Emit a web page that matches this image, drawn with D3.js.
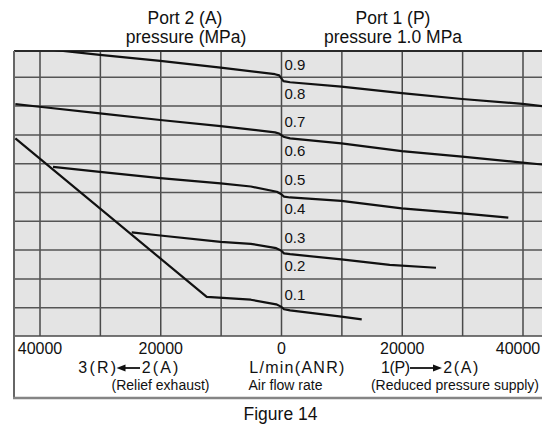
<!DOCTYPE html>
<html>
<head>
<meta charset="utf-8">
<script src="https://cdn.jsdelivr.net/npm/d3@7"></script>
<style>
  body { margin: 0; background: #fff; }
  text { font-family: "Liberation Sans", Arial, Helvetica, sans-serif; fill: #111; }
</style>
</head>
<body>
<svg width="542" height="428"></svg>
<script>
// flow in L/min(ANR): negative = relief exhaust 3(R)<-2(A), positive = supply 1(P)->2(A)
const xGridTicks = [-40000, -30000, -20000, -10000, 0, 10000, 20000, 30000, 40000];
const xLabelTicks = [-40000, -20000, 0, 20000, 40000];
const yGridTicks = [0.1, 0.2, 0.3, 0.4, 0.5, 0.6, 0.7, 0.8, 0.9];
const yLabelTicks = [0.1, 0.2, 0.3, 0.4, 0.5, 0.6, 0.7, 0.8, 0.9];

// [flow, port 2 pressure MPa], one array per set pressure
const curve09 = [[-44000, 1.008], [-30000, 0.976], [-20000, 0.955], [-10000, 0.932], [-1000, 0.909],
  [-300, 0.905], [0, 0.896], [400, 0.885], [1500, 0.881], [10000, 0.866], [20000, 0.843],
  [30000, 0.823], [40000, 0.806], [44000, 0.796]];
const curve07 = [[-44000, 0.805], [-40000, 0.796], [-30000, 0.773], [-20000, 0.750], [-10000, 0.729],
  [-1000, 0.707], [-300, 0.703], [0, 0.698], [400, 0.692], [1500, 0.686], [10000, 0.669],
  [20000, 0.642], [30000, 0.623], [40000, 0.602], [44000, 0.594]];
const curve05 = [[-37760, 0.587], [-30000, 0.570], [-20000, 0.548], [-10000, 0.530], [-5000, 0.519],
  [-700, 0.501], [0, 0.493], [500, 0.484], [1500, 0.481], [10000, 0.469], [20000, 0.443],
  [30000, 0.426], [37650, 0.411]];
const curve03 = [[-24730, 0.360], [-20000, 0.349], [-10000, 0.327], [-5000, 0.320], [-800, 0.305],
  [0, 0.297], [500, 0.287], [1500, 0.284], [10000, 0.266], [18000, 0.247], [25670, 0.237]];
const curve01 = [[-44000, 0.686], [-12300, 0.136], [-5000, 0.126], [-800, 0.110], [0, 0.102],
  [500, 0.093], [1500, 0.089], [10000, 0.067], [13370, 0.058]];
const curves = [curve09, curve07, curve05, curve03, curve01];

const svg = d3.select('svg');
const plotLeft = 14, plotRight = 560, plotTop = 51, plotBottom = 336, boxBottom = 398;

const x = d3.scaleLinear().domain([-40000, 40000]).range([39.5, 522.5]);
const y = d3.scaleLinear().domain([0, 1]).range([336, 48]);

svg.append('rect').attr('width', 542).attr('height', 428).attr('fill', '#fff');

// plot background
svg.append('rect')
  .attr('x', plotLeft).attr('y', plotTop)
  .attr('width', plotRight - plotLeft).attr('height', plotBottom - plotTop)
  .attr('fill', '#e4e4e4');

svg.append('clipPath').attr('id', 'plot-clip')
  .append('rect')
  .attr('x', plotLeft).attr('y', plotTop)
  .attr('width', plotRight - plotLeft).attr('height', plotBottom - plotTop);

// grid
svg.append('g')
  .attr('transform', `translate(0,${plotBottom})`)
  .call(d3.axisBottom(x).tickValues(xGridTicks).tickSize(-(plotBottom - plotTop)).tickFormat(''))
  .call(g => g.select('.domain').remove())
  .selectAll('line').attr('stroke', '#4a4a4a').attr('stroke-width', 1.5);

svg.append('g')
  .attr('transform', `translate(${plotLeft},0)`)
  .call(d3.axisLeft(y).tickValues(yGridTicks).tickSize(-(plotRight - plotLeft)).tickFormat(''))
  .call(g => g.select('.domain').remove())
  .selectAll('line').attr('stroke', '#555').attr('stroke-width', 1.5);

// frame
svg.append('line').attr('x1', plotLeft).attr('x2', plotRight).attr('y1', plotTop).attr('y2', plotTop)
  .attr('stroke', '#2a2a2a').attr('stroke-width', 2);
svg.append('line').attr('x1', plotLeft).attr('x2', plotRight).attr('y1', plotBottom).attr('y2', plotBottom)
  .attr('stroke', '#4a4a4a').attr('stroke-width', 1.6);
svg.append('line').attr('x1', plotLeft).attr('x2', plotLeft).attr('y1', plotTop).attr('y2', boxBottom)
  .attr('stroke', '#666').attr('stroke-width', 2);
svg.append('line').attr('x1', plotLeft - 1).attr('x2', plotRight).attr('y1', boxBottom).attr('y2', boxBottom)
  .attr('stroke', '#858585').attr('stroke-width', 2.5);

// curves
const line = d3.line().x(d => x(d[0])).y(d => y(d[1]));
svg.append('g').attr('clip-path', 'url(#plot-clip)')
  .selectAll('path')
  .data(curves)
  .enter()
    .append('path')
    .attr('d', line)
    .attr('fill', 'none')
    .attr('stroke', '#111')
    .attr('stroke-width', 2.2)
    .attr('stroke-linejoin', 'round');

// pressure labels next to the 0 line
const yLab = svg.append('g')
  .attr('transform', `translate(${x(0)},0)`)
  .call(d3.axisRight(y).tickValues(yLabelTicks).tickSize(0).tickPadding(3.5).tickFormat(d3.format('.1f')))
  .attr('font-size', 15);
yLab.select('.domain').remove();
yLab.selectAll('text').attr('dy', '-0.5em');

// flow tick labels
const xLab = svg.append('g')
  .attr('transform', `translate(0,${plotBottom})`)
  .call(d3.axisBottom(x).tickValues(xLabelTicks).tickSize(0).tickPadding(7)
    .tickFormat(d => d3.format('d')(Math.abs(d))))
  .attr('font-size', 16);
xLab.select('.domain').remove();
xLab.selectAll('text').filter(d => d === 40000).attr('dx', -5);

// titles
const title = (txt, cx, by, size) => svg.append('text')
  .attr('x', cx).attr('y', by).attr('text-anchor', 'middle').attr('font-size', size).text(txt);
title('Port 2 (A)', 185, 23.5, 17.5);
title('pressure (MPa)', 186, 43, 17.5);
title('Port 1 (P)', 393, 23.5, 17.5);
title('pressure 1.0 MPa', 393, 43, 17.5);
title('Figure 14', 280.5, 420, 17.5);

// direction labels under the axis
const spaced = (txt, x0, len) => svg.append('text')
  .attr('x', x0).attr('y', 373.3).attr('font-size', 16)
  .attr('textLength', len).attr('lengthAdjust', 'spacing').text(txt);
spaced('3(R)', 78.3, 37.7);
spaced('2(A)', 141.7, 36.6);
spaced('L/min(ANR)', 249.3, 95);
spaced('1(P)', 381, 29);
spaced('2(A)', 443.3, 35);

const arrow = (xTail, xTip) => {
  const dir = Math.sign(xTip - xTail), ay = 368;
  svg.append('line').attr('x1', xTail).attr('x2', xTip - dir * 7).attr('y1', ay).attr('y2', ay)
    .attr('stroke', '#111').attr('stroke-width', 1.8);
  svg.append('path')
    .attr('d', `M${xTip},${ay}L${xTip - dir * 9},${ay - 3.6}L${xTip - dir * 9},${ay + 3.6}Z`)
    .attr('fill', '#111');
};
arrow(140, 116.5);
arrow(410, 442);

title('(Relief exhaust)', 160.5, 390, 14);
title('Air flow rate', 285.5, 390, 14);
title('(Reduced pressure supply)', 455, 390, 14);
</script>
</body>
</html>
